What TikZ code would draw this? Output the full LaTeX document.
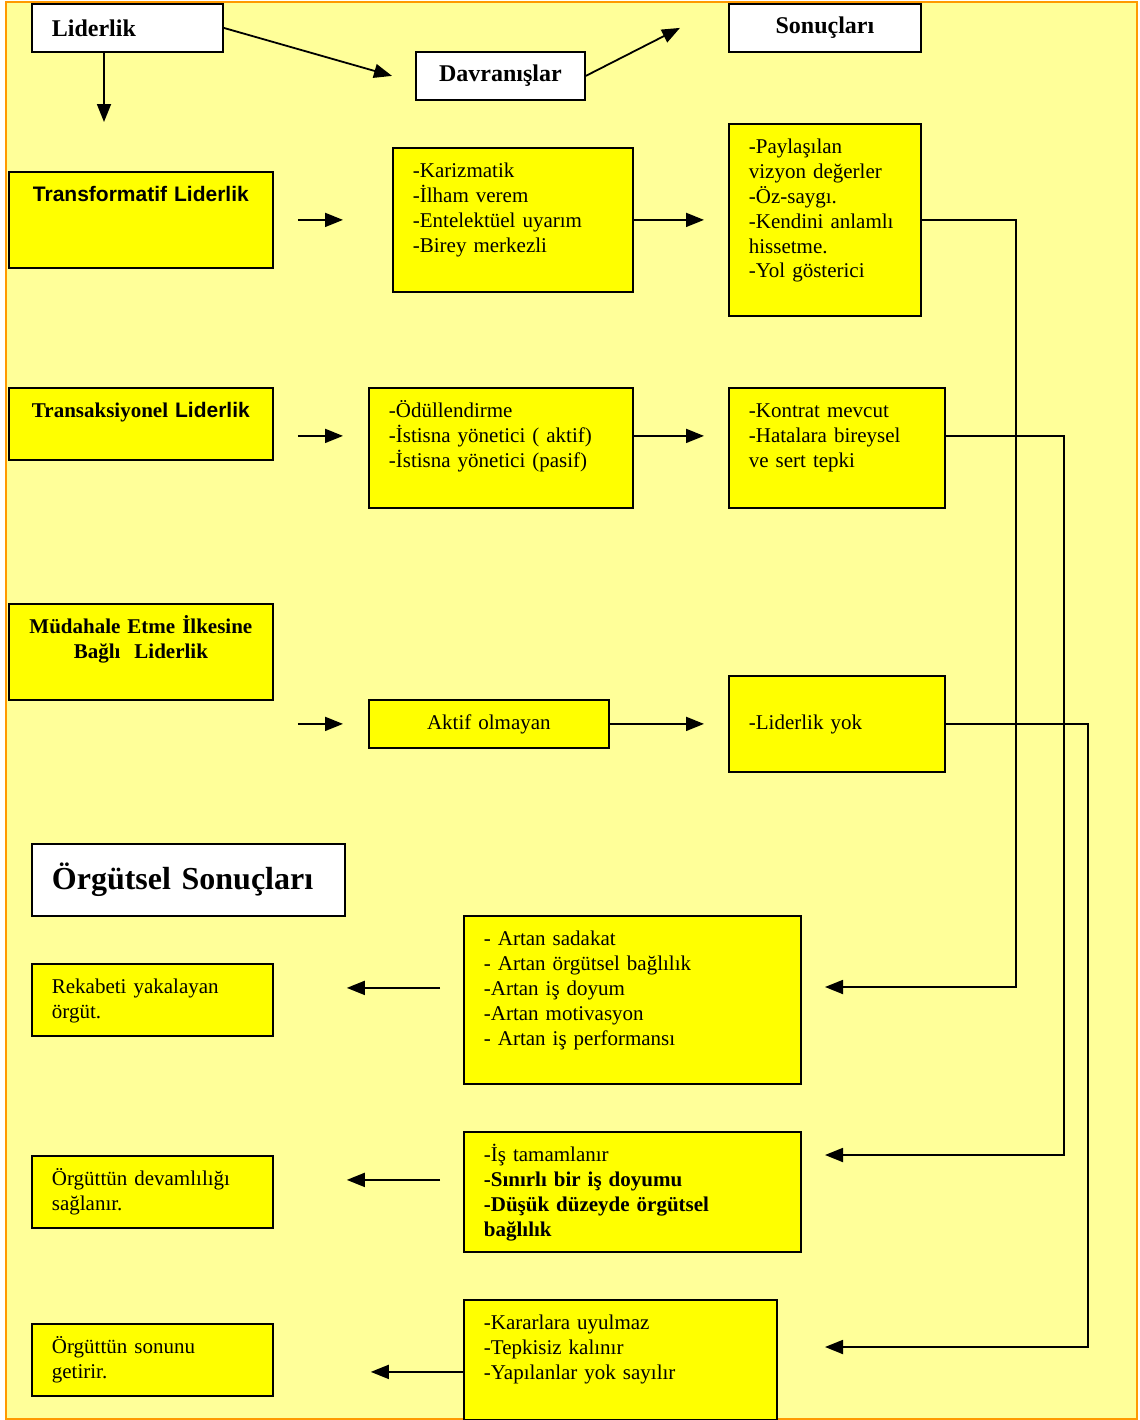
\documentclass[tikz,border=0pt]{standalone}
\usepackage{fontspec}
\setmainfont{Liberation Serif}
\newfontfamily\arialfont{Liberation Sans}
\usetikzlibrary{arrows.meta, positioning}

\definecolor{bgyellow}{HTML}{FFFF99}
\definecolor{boxyellow}{HTML}{FFFF00}
\definecolor{frameorange}{HTML}{FF9900}

\begin{document}
\begin{tikzpicture}[
    x=0.5pt, y=-0.5pt,
    box/.style={draw, fill=boxyellow, line width=0.9pt, anchor=north west, inner xsep=10pt, inner ysep=4pt, text height=11pt, align=left, font=\fontsize{10.5}{12.4}\selectfont},
    title/.style={align=center, font=\bfseries\fontsize{10.5}{12.4}\selectfont},
    head/.style={draw, fill=white, line width=0.9pt, anchor=north west, inner xsep=10pt, inner ysep=0pt, font=\bfseries\fontsize{12}{14}\selectfont},
    line/.style={draw, line width=0.9pt, -{Triangle[length=9pt, width=7pt]}}
]

% Page frame
\useasboundingbox (0,0) rectangle (1140,1420);
\path [fill=bgyellow, draw=frameorange, line width=1pt] (6,2) rectangle (1137,1419);

% Place the nodes
\node [head, text width=75.5pt, minimum height=24pt, align=left] (lid) at (31,3) {Liderlik};
\node [head, text width=64.5pt, minimum height=24pt, align=center] (dav) at (415,51) {Davranışlar};
\node [head, text width=76pt, minimum height=24pt, align=center] (son) at (728,3) {Sonuçları};

\node [box, title, text width=112pt, text depth=29pt, font=\arialfont\bfseries\fontsize{10.5}{12.4}\selectfont] (trans) at (8,171) {Transformatif Liderlik};
\node [box, text width=100pt, text depth=53pt] (tfbeh) at (392,147) {-Karizmatik\\-İlham verem\\-Entelektüel uyarım\\-Birey merkezli};
\node [box, text width=76pt, text depth=77pt] (tfres) at (728,123) {-Paylaşılan\\vizyon değerler\\-Öz-saygı.\\-Kendini anlamlı\\hissetme.\\-Yol gösterici};

\node [box, title, text width=112pt, text depth=17pt] (tsl) at (8,387) {Transaksiyonel {\arialfont Liderlik}};
\node [box, text width=112pt, text depth=41pt] (tsbeh) at (368,387) {-Ödüllendirme\\-İstisna yönetici ( aktif)\\-İstisna yönetici (pasif)};
\node [box, text width=88pt, text depth=41pt] (tsres) at (728,387) {-Kontrat mevcut\\-Hatalara bireysel\\ve sert tepki};

\node [box, title, text width=112pt, text depth=29pt] (lf) at (8,603) {Müdahale Etme İlkesine\\Bağlı\ \ Liderlik};
\node [box, align=center, text width=100pt, text depth=5pt] (lfbeh) at (368,699) {Aktif olmayan};
\node [box, text width=88pt, text height=23pt, text depth=17pt] (lfres) at (728,675) {-Liderlik yok};

\node [head, text width=136.5pt, minimum height=36pt, align=left, font=\bfseries\fontsize{16}{19}\selectfont] (org) at (31,843) {Örgütsel Sonuçları};

\node [box, text width=148.5pt, text depth=65pt] (hi) at (463,915) {- Artan sadakat\\- Artan örgütsel bağlılık\\-Artan iş doyum\\-Artan motivasyon\\- Artan iş performansı};
\node [box, text width=100.5pt, text depth=17pt] (hiout) at (31,963) {Rekabeti yakalayan\\örgüt.};
\node [box, text width=148.5pt, text depth=41pt] (mid) at (463,1131) {-İş tamamlanır\\\textbf{-Sınırlı bir iş doyumu}\\\textbf{-Düşük düzeyde örgütsel}\\\textbf{bağlılık}};
\node [box, text width=100.5pt, text depth=17pt] (midout) at (31,1155) {Örgüttün devamlılığı\\sağlanır.};
\node [box, text width=136.5pt, text depth=41pt] (lo) at (463,1299) {-Kararlara uyulmaz\\-Tepkisiz kalınır\\-Yapılanlar yok sayılır};
\node [box, text width=100.5pt, text depth=17pt] (loout) at (31,1323) {Örgüttün sonunu\\getirir.};

% Free ends of the connectors
\coordinate (lidend) at (104,122);
\coordinate (tftrunk) at (1016,987);
\coordinate (hiin) at (825,987);
\coordinate (tstrunk) at (1064,1155);
\coordinate (midin) at (825,1155);
\coordinate (lftrunk) at (1088,1347);
\coordinate (loin) at (825,1347);

% Draw the lines (arrows)
\path [line] (lid.south -| lidend) -- (lidend);
\path [line] (lid.east) -- ([xshift=-11.5pt]dav.west);
\path [line] (dav.east) -- ([xshift=-24pt]son.west);

\path [line] ([xshift=12pt]trans.east) -- ([xshift=-24.5pt]tfbeh.west);
\path [line] (tfbeh.east) -- ([xshift=-12pt]tfres.west);
\path [line] ([xshift=12pt,yshift=-6pt]tsl.east) -- ([xshift=-12.5pt,yshift=6pt]tsbeh.west);
\path [line] ([yshift=6pt]tsbeh.east) -- ([xshift=-12pt,yshift=6pt]tsres.west);
\path [line] ([xshift=12pt]lf.east |- lfbeh.west) -- ([xshift=-12.5pt]lfbeh.west);
\path [line] (lfbeh.east) -- ([xshift=-12pt]lfres.west);

\path [line] (tfres.east) -| (tftrunk) -- (hiin);
\path [line] ([yshift=6pt]tsres.east) -| (tstrunk) -- (midin);
\path [line] (lfres.east) -| (lftrunk) -- (loin);

\path [line] ([xshift=-11.5pt,yshift=6pt]hi.west) -- ([xshift=36.5pt,yshift=6pt]hiout.east);
\path [line] ([xshift=-11.5pt,yshift=6pt]mid.west) -- ([xshift=36.5pt,yshift=6pt]midout.east);
\path [line] ([yshift=-6pt]lo.west) -- ([xshift=48.5pt,yshift=-6pt]loout.east);

\end{tikzpicture}
\end{document}
